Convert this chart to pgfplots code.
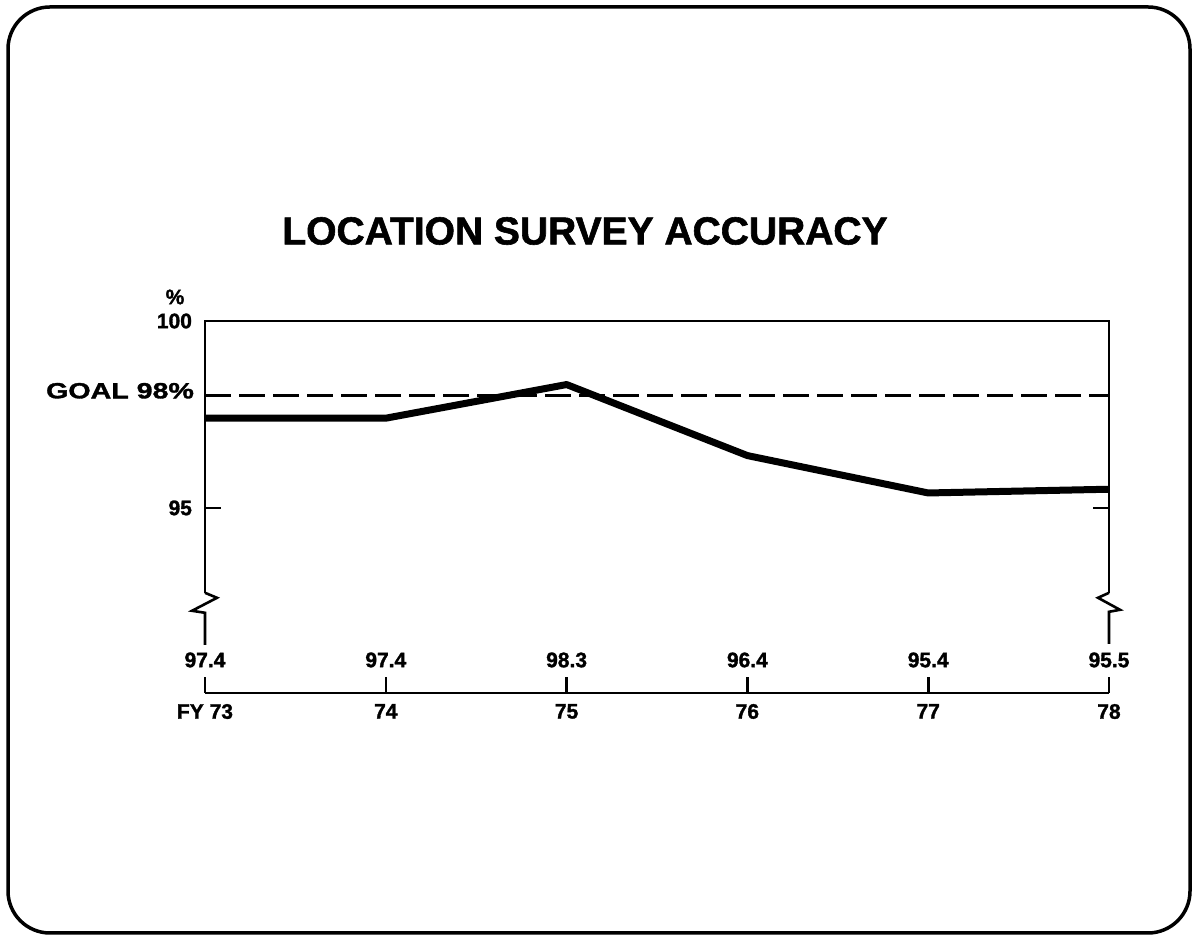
\documentclass[border=0pt]{standalone}
\usepackage{pgfplots}
\pgfplotsset{compat=1.18}
\usepackage{fontspec}
\setmainfont{Liberation Sans}[BoldFeatures={FakeBold=1.5}]
\newfontfamily\goalfont{Liberation Sans}[FakeStretch=1.3,BoldFeatures={FakeBold=1.5}]
\begin{document}
\begin{tikzpicture}
\useasboundingbox (0,0) rectangle (596.5pt,468pt);
\draw[line width=1.75pt, rounded corners=21pt] (4pt,1.5pt) rectangle (595pt,464.5pt);
\node[font=\fontsize{19.5}{22}\selectfont\bfseries] at (292.5pt,352.5pt) {LOCATION SURVEY ACCURACY};
\begin{axis}[at={(102.5pt,121.5pt)}, anchor=south west, scale only axis,
  width=452pt, height=186pt,
  xmin=73, xmax=78, ymin=90.05, ymax=100, clip=false,
  axis line style={draw=none},
  tick align=inside, major tick length=8pt,
  tick style={line width=1.3pt, black},
  xtick pos=bottom, ytick pos=both, yticklabel pos=left,
  xtick={73,74,75,76,77,78}, xticklabels={FY 73,74,75,76,77,78},
  ytick={95,100}, yticklabels={95,100},
  ticklabel style={font=\fontsize{10.5}{12}\selectfont\bfseries},
  xticklabel style={yshift=-2pt}, yticklabel style={xshift=-3pt}]
\tikzset{ax/.style={line width=1.3pt}}
% axis frame with breaks
\draw[ax] (axis cs:73,92.73) -- (axis cs:73,100) -- (axis cs:78,100) -- (axis cs:78,92.73);
\draw[ax] (axis cs:73,92.73) -- ++(6pt,-2.5pt) -- ++(-12.5pt,-6.5pt) -- ++(6.5pt,-1pt) -- ++(0pt,-16pt);
\draw[ax] (axis cs:78,92.73) -- ++(-5.5pt,-2.5pt) -- ++(11pt,-6pt) -- ++(-5.5pt,-1pt) -- ++(0pt,-16pt);
\draw[ax] (axis cs:73,90.05) -- (axis cs:78,90.05);
% goal line
\addplot[line width=1.5pt, dash pattern=on 13pt off 4pt] coordinates {(73,98) (78,98)};
% data
\addplot[line width=3.5pt, line join=round] coordinates {(73,97.4) (74,97.4) (75,98.3) (76,96.4) (77,95.4) (78,95.5)};
% value labels
\tikzset{vl/.style={font=\fontsize{10.5}{12}\selectfont\bfseries}}
\node[vl] at ([yshift=16.5pt]axis cs:73,90.05) {97.4};
\node[vl] at ([yshift=16.5pt]axis cs:74,90.05) {97.4};
\node[vl] at ([yshift=16.5pt]axis cs:75,90.05) {98.3};
\node[vl] at ([yshift=16.5pt]axis cs:76,90.05) {96.4};
\node[vl] at ([yshift=16.5pt]axis cs:77,90.05) {95.4};
\node[vl] at ([yshift=16.5pt]axis cs:78,90.05) {95.5};
\node[vl] at ([xshift=-15pt,yshift=12pt]axis cs:73,100) {\%};
\node[anchor=east, font=\fontsize{11}{13}\selectfont] at ([xshift=-2pt,yshift=2.5pt]axis cs:73,98) {\goalfont\bfseries GOAL 98\%};
\end{axis}
\end{tikzpicture}
\end{document}
